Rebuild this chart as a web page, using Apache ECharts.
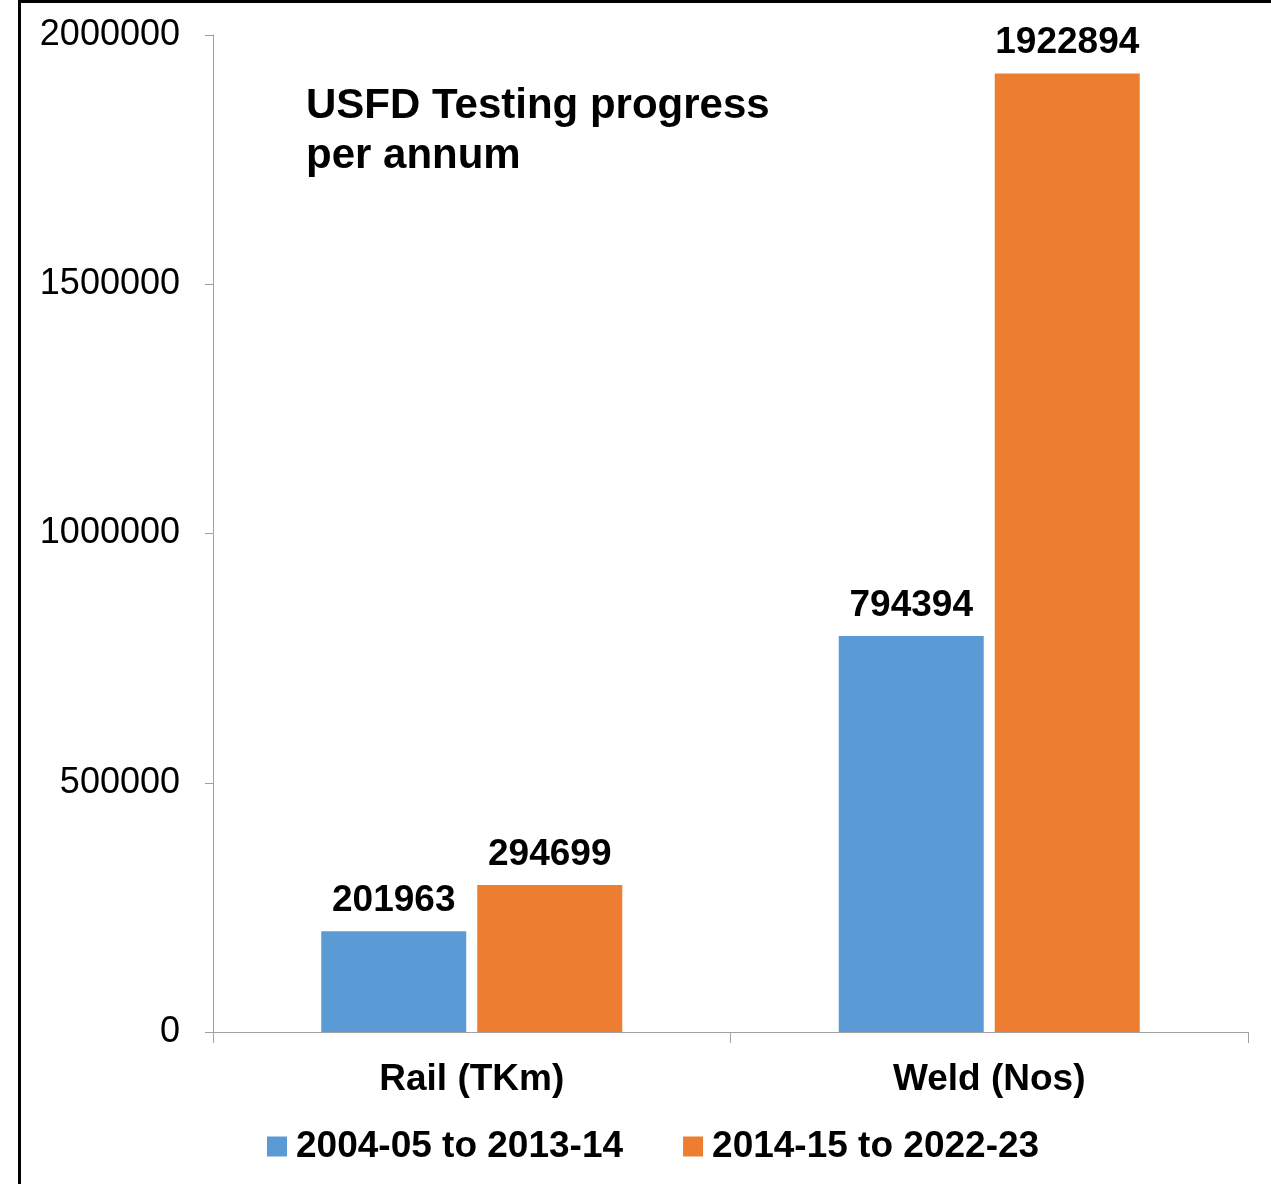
<!DOCTYPE html>
<html>
<head>
<meta charset="utf-8">
<script src="https://cdn.jsdelivr.net/npm/echarts@6/dist/echarts.min.js"></script>
<style>
  html, body { margin: 0; padding: 0; background: #fff; }
  .wrap { position: relative; width: 1271px; height: 1184px; overflow: hidden; }
  .frame {
    position: absolute; left: 18px; top: 0; width: 1400px; height: 1400px;
    border-left: 3px solid #000; border-top: 3px solid #000;
    box-sizing: border-box; pointer-events: none;
  }
  #chart { position: absolute; left: 0; top: 0; width: 1271px; height: 1184px; }
</style>
</head>
<body>
<div class="wrap">
  <div id="chart"></div>
  <div class="frame"></div>
</div>
<script>
const categories = ['Rail (TKm)', 'Weld (Nos)']
const seriesNames = ['2004-05 to 2013-14', '2014-15 to 2022-23']
const before2014 = [201963, 794394]
const after2014 = [294699, 1922894]
const yTicks = [0, 500000, 1000000, 1500000, 2000000]

const font = "'Liberation Sans', Arial, sans-serif"
const axisGray = '#a0a0a0'

let chart = echarts.init(document.getElementById('chart'))

let labelStyle = {
  show: true,
  position: 'top',
  distance: 12,
  color: '#000',
  fontFamily: font,
  fontWeight: 'bold',
  fontSize: 37,
}

let option = {
  animation: false,
  title: {
    text: 'USFD Testing progress\nper annum',
    left: 301,
    top: 76,
    textStyle: {
      fontFamily: font,
      fontWeight: 'bold',
      fontSize: 42,
      lineHeight: 50,
      color: '#000',
    },
  },
  legend: {
    data: seriesNames,
    left: 267,
    top: 1128,
    padding: 0,
    icon: 'rect',
    itemWidth: 20,
    itemHeight: 20,
    itemGap: 60,
    textStyle: {
      fontFamily: font,
      fontWeight: 'bold',
      fontSize: 37,
      color: '#000',
      padding: [0, 0, 0, 4],
    },
  },
  grid: {
    left: 213,
    right: 23,
    top: 35,
    bottom: 152,
    containLabel: false,
  },
  xAxis: {
    type: 'category',
    data: categories,
    axisLine: { show: true, lineStyle: { color: axisGray, width: 1 } },
    axisTick: { show: true, length: 11, lineStyle: { color: axisGray } },
    axisLabel: {
      margin: 29,
      color: '#000',
      fontFamily: font,
      fontWeight: 'bold',
      fontSize: 37,
    },
    splitLine: { show: false },
  },
  yAxis: {
    type: 'value',
    min: yTicks[0],
    max: yTicks[yTicks.length - 1],
    interval: yTicks[1] - yTicks[0],
    axisLine: { show: true, lineStyle: { color: axisGray, width: 1 } },
    axisTick: { show: true, length: 8, lineStyle: { color: axisGray } },
    axisLabel: {
      margin: 33,
      padding: [8, 0, 0, 0],
      color: '#000',
      fontFamily: font,
      fontSize: 36,
      formatter: (v) => String(v),
    },
    splitLine: { show: false },
  },
  series: [
    {
      name: seriesNames[0],
      type: 'bar',
      barWidth: 145,
      barGap: '7.6%',
      color: '#5B9BD5',
      label: labelStyle,
      data: before2014,
    },
    {
      name: seriesNames[1],
      type: 'bar',
      barWidth: 145,
      barGap: '7.6%',
      color: '#ED7D31',
      label: labelStyle,
      data: after2014,
    },
  ],
}

chart.setOption(option)
</script>
</body>
</html>
